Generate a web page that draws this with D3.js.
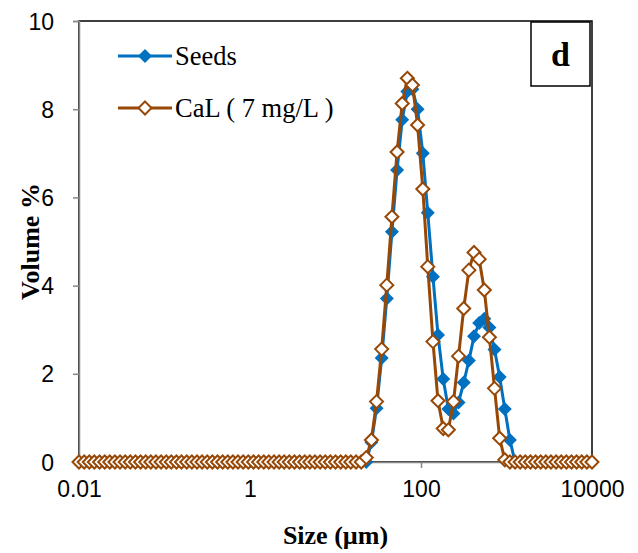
<!DOCTYPE html>
<html>
<head>
<meta charset="utf-8">
<script src="https://cdn.jsdelivr.net/npm/d3@7"></script>
<style>
  body { margin: 0; background: #fff; }
  svg { display: block; font-family: "Liberation Serif", "Times New Roman", serif; }
  .tick text { font-size: 23px; fill: #000; }
</style>
</head>
<body>
<div id="chart"></div>
<script>
// particle size bins (µm)
var sizes = [
  0.0100, 0.0115, 0.0132, 0.0151, 0.0174, 0.0200, 0.0229, 0.0263, 0.0302, 0.0347,
  0.0398, 0.0457, 0.0525, 0.0603, 0.0692, 0.0794, 0.0912, 0.105, 0.120, 0.138,
  0.158, 0.182, 0.209, 0.240, 0.275, 0.316, 0.363, 0.417, 0.479, 0.550,
  0.631, 0.724, 0.832, 0.955, 1.10, 1.26, 1.45, 1.66, 1.91, 2.19,
  2.51, 2.88, 3.31, 3.80, 4.37, 5.01, 5.75, 6.61, 7.59, 8.71,
  10.0, 11.5, 13.2, 15.1, 17.4, 20.0, 22.9, 26.3, 30.2, 34.7,
  39.8, 45.7, 52.5, 60.3, 69.2, 79.4, 91.2, 105, 120, 138,
  158, 182, 209, 240, 275, 316, 363, 417, 479, 550,
  631, 724, 832, 955, 1096, 1259, 1445, 1660, 1905, 2188,
  2512, 2884, 3311, 3802, 4365, 5012, 5754, 6607, 7586, 8710,
  10000
];

var seeds = [
  0, 0, 0, 0, 0, 0, 0, 0, 0, 0,
  0, 0, 0, 0, 0, 0, 0, 0, 0, 0,
  0, 0, 0, 0, 0, 0, 0, 0, 0, 0,
  0, 0, 0, 0, 0, 0, 0, 0, 0, 0,
  0, 0, 0, 0, 0, 0, 0, 0, 0, 0,
  0, 0, 0, 0, 0, 0, 0, 0.45, 1.22, 2.36,
  3.71, 5.22, 6.62, 7.76, 8.40, 8.45, 8.00, 7.00, 5.65, 4.20,
  2.88, 1.88, 1.20, 1.10, 1.35, 1.80, 2.30, 2.85, 3.15, 3.25,
  3.05, 2.55, 1.93, 1.20, 0.50, 0, 0, 0, 0, 0,
  0, 0, 0, 0, 0, 0, 0, 0, 0, 0,
  0
];

var cal = [
  0, 0, 0, 0, 0, 0, 0, 0, 0, 0,
  0, 0, 0, 0, 0, 0, 0, 0, 0, 0,
  0, 0, 0, 0, 0, 0, 0, 0, 0, 0,
  0, 0, 0, 0, 0, 0, 0, 0, 0, 0,
  0, 0, 0, 0, 0, 0, 0, 0, 0, 0,
  0, 0, 0, 0, 0, 0, 0.10, 0.50, 1.37, 2.56,
  4.01, 5.56, 7.03, 8.13, 8.70, 8.55, 7.64, 6.19, 4.43, 2.73,
  1.39, 0.76, 0.73, 1.37, 2.40, 3.48, 4.35, 4.75, 4.60, 3.90,
  2.83, 1.67, 0.54, 0.05, 0, 0, 0, 0, 0, 0,
  0, 0, 0, 0, 0, 0, 0, 0, 0, 0,
  0
];

var xTicks = [0.01, 1, 100, 10000];
var yTicks = [0, 2, 4, 6, 8, 10];
var seriesNames = ["Seeds", "CaL ( 7 mg/L )"];
var panelLabel = "d";

var width = 638;
var height = 553;
var margin = { top: 21, right: 46, bottom: 91, left: 79 };

var blue = "#0070c0";
var brown = "#974806";
var axisGrey = "#868686";

var x = d3.scaleLog()
  .domain([0.01, 10000])
  .range([margin.left, width - margin.right]);

var y = d3.scaleLinear()
  .domain([0, 10])
  .range([height - margin.bottom, margin.top]);

var diamond = function(r) {
  return "M0," + (-r) + "L" + r + ",0L0," + r + "L" + (-r) + ",0Z";
};

var svg = d3.select("#chart").append("svg")
  .attr("width", width)
  .attr("height", height);

// plot area border (top + right show black)
svg.append("rect")
  .attr("x", x.range()[0])
  .attr("y", y.range()[1])
  .attr("width", x.range()[1] - x.range()[0])
  .attr("height", y.range()[0] - y.range()[1])
  .attr("fill", "none")
  .attr("stroke", "#000")
  .attr("stroke-width", 1.5);

var xAxis = d3.axisBottom(x)
  .tickValues(xTicks)
  .tickSize(6)
  .tickPadding(8)
  .tickFormat(function(d) { return d < 1 ? String(d) : d3.format("d")(d); });

var yAxis = d3.axisLeft(y)
  .tickValues(yTicks)
  .tickSize(6)
  .tickPadding(19);

var gx = svg.append("g")
  .attr("transform", "translate(0," + y(0) + ")")
  .call(xAxis);

var gy = svg.append("g")
  .attr("transform", "translate(" + x(0.01) + ",0)")
  .call(yAxis);

[gx, gy].forEach(function(g) {
  g.select(".domain").attr("stroke", axisGrey).attr("stroke-width", 1.5);
  g.selectAll(".tick line").attr("stroke", axisGrey).attr("stroke-width", 1.5);
  g.selectAll(".tick text").attr("font-family", null);
});
gx.selectAll(".tick text").attr("dy", "0.9em");
gy.selectAll(".tick text").attr("dy", "0.35em");

// axis titles
svg.append("text")
  .attr("x", (x.range()[0] + x.range()[1]) / 2)
  .attr("y", 544)
  .attr("text-anchor", "middle")
  .attr("font-size", 26)
  .attr("font-weight", "bold")
  .text("Size (µm)");

svg.append("text")
  .attr("transform", "translate(39," + (y(5)) + ") rotate(-90)")
  .attr("text-anchor", "middle")
  .attr("font-size", 26)
  .attr("font-weight", "bold")
  .text("Volume %");

var line = d3.line()
  .x(function(d) { return x(d[0]); })
  .y(function(d) { return y(d[1]); });

var series = [
  { name: seriesNames[0], values: seeds, color: blue, fill: blue },
  { name: seriesNames[1], values: cal, color: brown, fill: "#fff" }
];

series.forEach(function(s) {
  var pts = sizes.map(function(v, i) { return [v, s.values[i]]; });
  var g = svg.append("g");

  g.append("path")
    .datum(pts)
    .attr("d", line)
    .attr("fill", "none")
    .attr("stroke", s.color)
    .attr("stroke-width", 3)
    .attr("stroke-linejoin", "round");

  g.selectAll("path.mark")
    .data(pts)
    .enter().append("path")
      .attr("class", "mark")
      .attr("d", diamond(s.fill === "#fff" ? 6.5 : 7))
      .attr("transform", function(d) { return "translate(" + x(d[0]) + "," + y(d[1]) + ")"; })
      .attr("fill", s.fill)
      .attr("stroke", s.fill === "#fff" ? s.color : "none")
      .attr("stroke-width", 2);
});

// legend
var legend = svg.append("g");
series.forEach(function(s, i) {
  var ly = 56 + i * 52;
  legend.append("line")
    .attr("x1", 118).attr("x2", 172)
    .attr("y1", ly).attr("y2", ly)
    .attr("stroke", s.color)
    .attr("stroke-width", 3);
  legend.append("path")
    .attr("d", diamond(s.fill === "#fff" ? 6.5 : 7))
    .attr("transform", "translate(145," + ly + ")")
    .attr("fill", s.fill)
    .attr("stroke", s.fill === "#fff" ? s.color : "none")
    .attr("stroke-width", 2);
  legend.append("text")
    .attr("x", 175)
    .attr("y", ly)
    .attr("dy", "0.35em")
    .attr("font-size", 26.5)
    .text(s.name);
});

// panel label box
svg.append("rect")
  .attr("x", 531)
  .attr("y", 22)
  .attr("width", 59)
  .attr("height", 64)
  .attr("fill", "#fff")
  .attr("stroke", "#000")
  .attr("stroke-width", 1.5);

svg.append("text")
  .attr("x", 560.5)
  .attr("y", 54)
  .attr("dy", "0.35em")
  .attr("text-anchor", "middle")
  .attr("font-size", 34)
  .attr("font-weight", "bold")
  .text(panelLabel);
</script>
</body>
</html>
